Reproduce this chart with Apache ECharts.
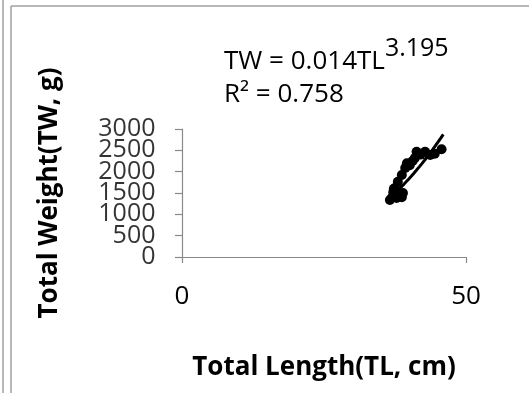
<!DOCTYPE html>
<html><head><meta charset="utf-8">
<script src="https://cdn.jsdelivr.net/npm/echarts@6/dist/echarts.min.js"></script>
<style>html,body{margin:0;padding:0;background:#fff}#c{width:529px;height:393px}</style>
</head><body><div id="c"></div>
<script>
// Total length (cm) and total weight (g)
var lengthTL = [36.6, 37.0, 37.2, 37.3, 37.5, 37.5, 37.8, 38.0, 38.2, 38.4, 38.7, 38.9, 38.0, 38.7, 39.3, 39.6, 40.1, 40.6, 41.0, 41.3, 42.0, 42.8, 43.7, 44.5, 45.7];
var weightTW = [1336, 1400, 1520, 1600, 1453, 1615, 1383, 1420, 1480, 1453, 1400, 1500, 1765, 1920, 2085, 2195, 2150, 2250, 2320, 2468, 2400, 2468, 2390, 2420, 2524];
var xTicks = [0, 50];
var yTicks = [0, 500, 1000, 1500, 2000, 2500, 3000];
// Power trend line TW = a * TL^b (from the chart's equation)
var trendA = 0.014, trendB = 3.195;
var trendRange = [36.6, 46.0];

var trendPts = [];
for (var i = 0; i <= 20; i++) {
  var x = trendRange[0] + (trendRange[1] - trendRange[0]) * i / 20;
  trendPts.push([x, trendA * Math.pow(x, trendB)]);
}
var pts = lengthTL.map(function (v, i) { return [v, weightTW[i]]; });
var yLabelPts = yTicks.map(function (v) { return [xTicks[0], v]; });

var chart = echarts.init(document.getElementById('c'));
var axisGray = '#8a8a8a';
var font = 'Open Sans';
chart.setOption({
  animation: false,
  grid: { left: 182, right: 63, top: 129, bottom: 136 },
  xAxis: {
    type: 'value', min: xTicks[0], max: xTicks[xTicks.length - 1], interval: 50,
    splitLine: { show: false },
    axisLine: { onZero: false, lineStyle: { color: axisGray, width: 1.2 } },
    axisTick: { show: true, inside: false, length: 6, lineStyle: { color: axisGray, width: 1.2 } },
    axisLabel: { color: '#000', fontFamily: font, fontSize: 26, margin: 27, showMinLabel: true, showMaxLabel: true },
    name: 'Total Length(TL, cm)', nameLocation: 'middle', nameGap: 98,
    nameTextStyle: { color: '#000', fontFamily: font, fontWeight: 'bold', fontSize: 26 }
  },
  yAxis: {
    type: 'value', min: yTicks[0], max: yTicks[yTicks.length - 1], interval: 500,
    splitLine: { show: false },
    axisLine: { show: true, lineStyle: { color: axisGray, width: 1.2 } },
    axisTick: { show: true, inside: false, length: 7, lineStyle: { color: axisGray, width: 1.2 } },
    axisLabel: { show: false },
    name: 'Total Weight(TW, g)', nameLocation: 'middle', nameGap: 119, nameRotate: 90,
    nameTextStyle: { color: '#000', fontFamily: font, fontWeight: 'bold', fontSize: 26 }
  },
  series: [
    { type: 'scatter', data: pts, symbol: 'circle', symbolSize: 10,
      itemStyle: { color: '#000', opacity: 1 }, z: 3 },
    { type: 'line', data: trendPts, showSymbol: false, smooth: false,
      lineStyle: { color: '#000', width: 3 }, z: 4 },
    { type: 'scatter', data: yLabelPts, symbolSize: 1, silent: true, clip: false,
      itemStyle: { color: 'rgba(0,0,0,0)' },
      label: { show: true, position: 'left', distance: 26, color: '#000', fontFamily: font, fontSize: 25,
        formatter: function (p) { return String(p.value[1]); } },
      labelLayout: { hideOverlap: false } }
  ],
  graphic: [
    { type: 'line', shape: { x1: 3, y1: 0, x2: 3, y2: 393 }, style: { stroke: '#a0a0a0', lineWidth: 1.5 } },
    { type: 'line', shape: { x1: 11, y1: 6, x2: 11, y2: 393 }, style: { stroke: '#a0a0a0', lineWidth: 1.5 } },
    { type: 'line', shape: { x1: 11, y1: 6, x2: 529, y2: 6 }, style: { stroke: '#a0a0a0', lineWidth: 1.5 } },
    { type: 'text', left: 224, top: 36, style: {
        text: '{m|TW = 0.014TL}{s|3.195}',
        rich: {
          m: { fontFamily: font, fontSize: 26, fill: '#000', verticalAlign: 'bottom', lineHeight: 34 },
          s: { fontFamily: font, fontSize: 25, fill: '#000', verticalAlign: 'top', padding: [0, 0, 14, 0] }
        } } },
    { type: 'text', left: 224, top: 82, style: {
        text: 'R² = 0.758', font: '26px "Open Sans"', fill: '#000' } }
  ]
});
</script></body></html>
